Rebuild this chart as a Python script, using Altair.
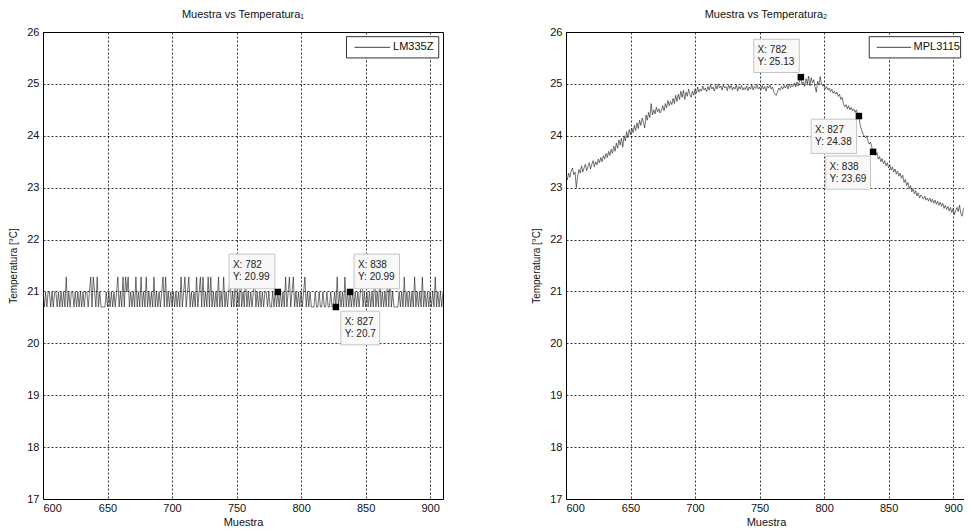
import altair as alt
import pandas as pd

# ---------------- data ----------------
muestra = list(range(600, 911))

lm335z = [
    20.99, 20.7, 20.99, 20.7, 20.99, 20.99, 20.7, 20.99, 20.7, 20.99,   # 600
    20.99, 20.7, 20.99, 20.7, 20.99, 20.7, 20.99, 20.7, 21.28, 20.7,    # 610
    20.99, 20.7, 20.99, 20.99, 20.7, 20.99, 20.7, 20.99, 20.7, 20.99,   # 620
    20.7, 20.99, 20.7, 20.99, 20.99, 20.7, 20.99, 21.28, 20.7, 21.28,   # 630
    20.99, 20.7, 21.28, 20.7, 20.99, 20.7, 20.7, 20.7, 20.7, 20.99,     # 640
    20.7, 20.99, 20.7, 20.99, 20.7, 20.99, 20.7, 20.99, 21.28, 20.7,    # 650
    20.99, 20.7, 21.28, 20.7, 21.28, 20.99, 21.28, 20.7, 20.99, 20.7,   # 660
    20.99, 20.7, 21.28, 20.7, 20.99, 20.7, 21.28, 20.7, 20.99, 20.7,    # 670
    21.28, 20.7, 20.99, 20.7, 20.99, 20.7, 21.28, 20.7, 20.99, 20.7,    # 680
    20.99, 20.7, 20.99, 21.28, 20.7, 21.28, 20.7, 20.99, 20.7, 20.99,   # 690
    20.7, 20.99, 20.7, 20.99, 20.7, 20.99, 20.7, 21.28, 20.7, 20.99,    # 700
    21.28, 20.7, 20.99, 21.28, 20.7, 20.99, 20.7, 20.99, 20.7, 21.28,   # 710
    20.7, 20.99, 21.28, 20.7, 21.28, 20.7, 20.99, 20.7, 21.28, 20.7,    # 720
    21.28, 20.7, 20.99, 20.7, 20.99, 20.7, 21.28, 20.7, 20.99, 20.7,    # 730
    21.28, 20.7, 20.99, 20.7, 20.99, 21.28, 20.7, 20.99, 20.7, 21.28,   # 740
    20.7, 20.99, 20.7, 21.28, 20.7, 20.99, 20.7, 21.28, 20.7, 20.99,    # 750
    20.7, 20.99, 20.7, 20.99, 21.28, 20.7, 20.99, 20.7, 20.99, 20.7,    # 760
    20.99, 20.7, 20.99, 20.99, 20.7, 20.99, 20.7, 20.7, 20.99, 20.7,    # 770
    20.99, 20.7, 20.99, 20.7, 20.99, 20.7, 20.99, 20.7, 21.28, 20.7,    # 780
    20.99, 21.28, 20.7, 20.99, 21.28, 20.7, 20.99, 20.7, 20.99, 20.7,   # 790
    20.99, 20.7, 20.99, 21.28, 20.7, 20.99, 20.7, 20.99, 20.7, 20.7,    # 800
    20.7, 20.99, 20.7, 20.7, 20.99, 20.7, 20.7, 20.99, 20.7, 20.7,      # 810
    20.99, 20.7, 20.7, 20.99, 20.7, 20.7, 20.99, 20.7, 21.28, 20.7,     # 820
    20.99, 20.7, 20.99, 20.7, 21.28, 20.7, 20.99, 20.7, 20.99, 20.7,    # 830
    20.99, 20.7, 20.99, 20.7, 20.99, 20.7, 20.99, 21.28, 20.7, 20.99,   # 840
    20.7, 20.99, 20.7, 20.99, 20.7, 20.99, 20.7, 21.28, 20.7, 20.99,    # 850
    20.7, 21.28, 20.7, 20.99, 20.7, 20.99, 20.7, 21.28, 20.7, 21.28,    # 860
    20.7, 20.99, 20.7, 20.7, 20.7, 20.7, 20.99, 20.7, 20.99, 20.7,      # 870
    21.28, 20.7, 20.99, 20.7, 20.99, 20.7, 20.99, 20.7, 21.28, 20.7,    # 880
    20.99, 20.7, 20.99, 20.7, 21.28, 20.7, 20.99, 20.7, 20.99, 20.7,    # 890
    20.99, 20.7, 20.99, 20.7, 21.28, 20.7, 20.99, 20.7, 20.99, 20.7,    # 900
    20.99,                                                              # 910
]

mpl3115 = [
    23.24, 23.15, 23.28, 23.2, 23.32, 23.38, 23.25, 23.3, 23.0, 23.22,   # 600
    23.35, 23.28, 23.42, 23.3, 23.38, 23.45, 23.33, 23.4, 23.48, 23.36,  # 610
    23.45, 23.52, 23.4, 23.5, 23.44, 23.55, 23.48, 23.58, 23.5, 23.62,   # 620
    23.55, 23.66, 23.58, 23.7, 23.62, 23.74, 23.66, 23.8, 23.7, 23.86,   # 630
    23.76, 23.92, 23.82, 23.95, 23.78, 24.0, 23.9, 24.08, 23.96, 24.12,  # 640
    24.02, 24.15, 24.06, 24.2, 24.1, 24.25, 24.14, 24.3, 24.2, 24.34,    # 650
    24.26, 24.15, 24.4, 24.3, 24.45, 24.35, 24.62, 24.4, 24.5, 24.42,    # 660
    24.55, 24.46, 24.52, 24.44, 24.5, 24.58, 24.48, 24.62, 24.54, 24.68, # 670
    24.58, 24.66, 24.6, 24.72, 24.62, 24.78, 24.66, 24.8, 24.7, 24.86,   # 680
    24.74, 24.88, 24.7, 24.84, 24.76, 24.9, 24.8, 24.74, 24.86, 24.78,   # 690
    24.9, 24.82, 24.94, 24.84, 24.9, 24.86, 24.96, 24.88, 24.92, 24.85,  # 700
    24.95, 24.88, 24.98, 24.9, 24.94, 24.86, 24.97, 24.9, 25.0, 24.92,   # 710
    24.96, 24.88, 24.98, 24.92, 24.95, 24.87, 24.98, 24.91, 24.97, 24.88,# 720
    24.94, 24.9, 24.98, 24.86, 24.95, 24.9, 24.97, 24.88, 24.93, 24.89,  # 730
    24.96, 24.87, 24.94, 24.9, 24.98, 24.88, 24.95, 24.91, 24.99, 24.9,  # 740
    24.94, 24.88, 24.97, 24.9, 24.95, 24.86, 24.96, 24.92, 24.98, 24.9,  # 750
    24.94, 24.85, 24.8, 24.78, 24.86, 24.92, 24.88, 24.95, 24.9, 24.97,  # 760
    24.92, 24.98, 24.9, 25.0, 24.93, 24.97, 24.95, 25.02, 24.94, 25.04,  # 770
    24.96, 25.06, 25.13, 24.98, 25.04, 24.95, 25.1, 25.0, 25.15, 24.96,  # 780
    25.12, 25.02, 25.08, 24.94, 24.84, 25.05, 24.98, 25.14, 25.0, 24.96, # 790
    24.98, 24.9, 24.95, 24.88, 24.92, 24.85, 24.9, 24.82, 24.86, 24.8,   # 800
    24.84, 24.76, 24.8, 24.7, 24.74, 24.62, 24.56, 24.6, 24.52, 24.58,   # 810
    24.5, 24.55, 24.48, 24.52, 24.45, 24.5, 24.42, 24.38, 24.2, 24.12,   # 820
    24.05, 24.0, 23.96, 24.0, 23.9, 23.84, 23.88, 23.78, 23.69, 23.72,   # 830
    23.62, 23.68, 23.55, 23.6, 23.5, 23.56, 23.46, 23.52, 23.42, 23.48,  # 840
    23.38, 23.44, 23.34, 23.4, 23.3, 23.36, 23.26, 23.32, 23.22, 23.28,  # 850
    23.18, 23.24, 23.1, 23.16, 23.04, 23.1, 22.98, 23.04, 22.92, 22.98,  # 860
    22.88, 22.94, 22.84, 22.9, 22.8, 22.86, 22.82, 22.78, 22.84, 22.76,  # 870
    22.8, 22.74, 22.8, 22.72, 22.78, 22.7, 22.76, 22.68, 22.74, 22.66,   # 880
    22.72, 22.64, 22.7, 22.6, 22.66, 22.58, 22.64, 22.55, 22.62, 22.52,  # 890
    22.6, 22.48, 22.56, 22.62, 22.54, 22.66, 22.5, 22.45, 22.58, 22.64,  # 900
    22.55,                                                               # 910
]

tip_x = [782, 827, 838]
tip_lm335z = [20.99, 20.7, 20.99]
tip_mpl3115 = [25.13, 24.38, 23.69]

x_ticks = [600, 650, 700, 750, 800, 850, 900]
y_ticks = [17, 18, 19, 20, 21, 22, 23, 24, 25, 26]

titles = ["Muestra vs Temperatura\u2081", "Muestra vs Temperatura\u2082"]
series_names = ["LM335Z", "MPL3115"]

# ---------------- layout (data units) ----------------
# datatip boxes: (x1, x2, ybottom, ytop)
boxes_left = [(744.2, 779.7, 21.05, 21.72), (830.8, 860.9, 19.97, 20.62), (841.1, 876.3, 21.05, 21.72)]
boxes_right = [(745.5, 780.8, 25.22, 25.86), (790.0, 825.2, 23.66, 24.32), (801.3, 836.0, 22.97, 23.61)]
# legend: box x1, x2, y1, y2, line x1, x2, text x
legend_left = (835.2, 906.7, 25.50, 25.91, 841.4, 869.1, 871.3)
legend_right = (835.0, 905.8, 25.50, 25.91, 840.8, 867.5, 869.4)

FONT = "Liberation Sans"
XDOM = [600, 910]
YDOM = [17, 26]
W, H = 400, 467

X_AXIS = alt.Axis(values=x_ticks, title="Muestra", format="d", grid=True,
                  labelPadding=3, titlePadding=3)
Y_AXIS = alt.Axis(values=y_ticks, title="Temperatura [\u00b0C]", grid=True,
                  labelPadding=4, titlePadding=8, titleFontSize=10)


def ex(field):
    return alt.X(field, scale=alt.Scale(domain=XDOM, nice=False, zero=False), axis=X_AXIS)


def ey(field):
    return alt.Y(field, scale=alt.Scale(domain=YDOM, nice=False, zero=False), axis=Y_AXIS)


def panel(values, tips_y, boxes, legend, name, title):
    df = pd.DataFrame({"Muestra": muestra, "T": values})
    line = alt.Chart(df).mark_line(color="#262626", strokeWidth=0.65, clip=True).encode(
        x=ex("Muestra:Q"), y=ey("T:Q"))

    tips = pd.DataFrame({
        "tx": tip_x, "ty": tips_y,
        "bx1": [b[0] for b in boxes], "bx2": [b[1] for b in boxes],
        "by1": [b[2] for b in boxes], "by2": [b[3] for b in boxes],
        "l1": ["X: %d" % v for v in tip_x],
        "l2": ["Y: %g" % v for v in tips_y],
    })
    tips["txt_x"] = tips["bx1"] + 3.0
    tips["t1y"] = tips["by2"] - 0.21
    tips["t2y"] = tips["by2"] - 0.44

    box = alt.Chart(tips).mark_rect(fill="#f8f8f8", stroke="#c4c4c4", strokeWidth=1).encode(
        x=ex("bx1:Q"), x2="bx2:Q", y=ey("by1:Q"), y2="by2:Q")
    t1 = alt.Chart(tips).mark_text(align="left", baseline="middle", font=FONT, fontSize=10, color="#222").encode(
        x=ex("txt_x:Q"), y=ey("t1y:Q"), text="l1:N")
    t2 = alt.Chart(tips).mark_text(align="left", baseline="middle", font=FONT, fontSize=10, color="#222").encode(
        x=ex("txt_x:Q"), y=ey("t2y:Q"), text="l2:N")
    sq = alt.Chart(tips).mark_square(size=42, color="black", filled=True, opacity=1).encode(
        x=ex("tx:Q"), y=ey("ty:Q"))

    lg = pd.DataFrame({"x1": [legend[0]], "x2": [legend[1]], "y1": [legend[2]], "y2": [legend[3]],
                       "lx1": [legend[4]], "lx2": [legend[5]], "ly": [(legend[2] + legend[3]) / 2],
                       "tx": [legend[6]], "name": [name]})
    lbox = alt.Chart(lg).mark_rect(fill="white", stroke="#333333", strokeWidth=1).encode(
        x=ex("x1:Q"), x2="x2:Q", y=ey("y1:Q"), y2="y2:Q")
    lline = alt.Chart(lg).mark_rule(color="#111111", strokeWidth=0.8).encode(
        x=ex("lx1:Q"), x2="lx2:Q", y=ey("ly:Q"))
    ltext = alt.Chart(lg).mark_text(align="left", baseline="middle", font=FONT, fontSize=11, color="#111").encode(
        x=ex("tx:Q"), y=ey("ly:Q"), text="name:N")

    return alt.layer(line, box, t1, t2, sq, lbox, lline, ltext).properties(
        width=W, height=H,
        title=alt.TitleParams(title, font=FONT, fontSize=11, fontWeight="normal", color="#111",
                              offset=6, anchor="middle"),
    )


left = panel(lm335z, tip_lm335z, boxes_left, legend_left, series_names[0], titles[0])
right = panel(mpl3115, tip_mpl3115, boxes_right, legend_right, series_names[1], titles[1])

# the reference is cropped at the right edge of the window: a small negative right
# padding clips the right panel's frame the same way instead of shrinking the page
chart = alt.hconcat(left, right, spacing=87).properties(
    padding={"left": 0, "top": 0, "right": -3, "bottom": 0},
    background="white",
).configure_view(
    stroke="black", strokeWidth=1
).configure_axis(
    labelFont=FONT, labelFontSize=11, labelColor="#111",
    titleFont=FONT, titleFontSize=11, titleFontWeight="normal", titleColor="#111",
    ticks=False, domain=False,
    gridColor="black", gridDash=[2, 2], gridWidth=0.8, gridOpacity=1,
)

chart.save("out.html", embed_options={"renderer": "svg", "actions": False})
